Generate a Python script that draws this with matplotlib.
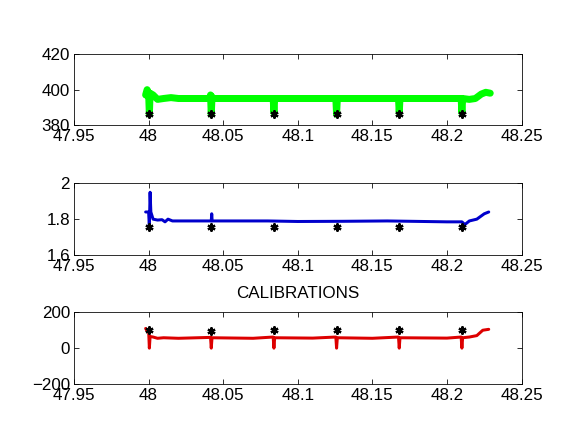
import matplotlib
matplotlib.use('Agg')
import matplotlib.pyplot as plt
import numpy as np

# calibration times and the values at which the asterisks sit
cal_x = [48.0, 48.042, 48.084, 48.126, 48.168, 48.21]
cal_top = [386, 386, 386, 386, 386, 386]
cal_mid = [1.756, 1.756, 1.756, 1.756, 1.756, 1.756]
cal_bot = [100, 93, 100, 100, 100, 100]

# top panel (green)
green_x = [47.998, 47.999, 48.0, 48.0005, 48.001, 48.003, 48.006, 48.01, 48.015,
           48.02, 48.041, 48.0415, 48.042, 48.0425, 48.043, 48.06, 48.0835, 48.084,
           48.0845, 48.1, 48.1255, 48.126, 48.1265, 48.15, 48.1675, 48.168, 48.1685,
           48.19, 48.2095, 48.21, 48.2105, 48.215, 48.219, 48.223, 48.226, 48.229]
green_y = [397, 400, 398, 386, 398, 397, 394.5, 395, 395.5,
           395, 395, 397, 386, 396, 395, 395, 395, 387,
           395, 395, 395, 386, 395, 395, 395, 387, 395,
           395, 395, 387, 395, 394.5, 395, 397.5, 398.5, 398]

# middle panel (blue)
blue_x = [47.998, 48.0, 48.0005, 48.001, 48.0015, 48.003, 48.006, 48.009, 48.011,
          48.013, 48.016, 48.02, 48.042, 48.0423, 48.0426, 48.06, 48.08, 48.1,
          48.13, 48.16, 48.2, 48.21, 48.212, 48.215, 48.22, 48.225, 48.228]
blue_y = [1.84, 1.84, 1.76, 1.95, 1.84, 1.80, 1.795, 1.797, 1.785,
          1.80, 1.79, 1.79, 1.79, 1.83, 1.79, 1.79, 1.79, 1.787,
          1.788, 1.79, 1.785, 1.785, 1.77, 1.79, 1.80, 1.83, 1.84]

# bottom panel (red)
red_x = [47.998, 47.999, 48.0, 48.0005, 48.001, 48.003, 48.006, 48.01, 48.02,
         48.0415, 48.042, 48.0425, 48.07, 48.0835, 48.084, 48.0845, 48.11, 48.1255,
         48.126, 48.1265, 48.15, 48.1675, 48.168, 48.1685, 48.2, 48.2095, 48.21,
         48.2105, 48.215, 48.22, 48.224, 48.228]
red_y = [110, 95, 100, 0, 65, 62, 55, 58, 55,
         60, 0, 58, 55, 62, 0, 58, 56, 62,
         0, 58, 55, 62, 0, 58, 56, 62, 0,
         58, 62, 70, 100, 105]

xticks = [47.95, 48.0, 48.05, 48.1, 48.15, 48.2, 48.25]
xlabels = ['47.95', '48', '48.05', '48.1', '48.15', '48.2', '48.25']

matplotlib.rcParams.update({'font.family': 'Liberation Sans', 'font.size': 17})

fig = plt.figure(figsize=(8, 6), dpi=72)
left, width = 0.1285, 0.777
boxes = [(0.7106, 0.1637), (0.4097, 0.166), (0.1111, 0.166)]

panels = [
    (green_x, green_y, '#00ff00', 7, cal_top, [380, 420], [380, 400, 420], ['380', '400', '420']),
    (blue_x, blue_y, '#0000cc', 3, cal_mid, [1.6, 2.0], [1.6, 1.8, 2.0], ['1.6', '1.8', '2']),
    (red_x, red_y, '#dd0000', 3, cal_bot, [-200, 200], [-200, 0, 200], ['\u2212200', '0', '200']),
]

for i, (xs, ys, col, lw, cy, ylim, yt, ytl) in enumerate(panels):
    ax = fig.add_axes([left, boxes[i][0], width, boxes[i][1]])
    ax.plot(xs, ys, color=col, lw=lw, solid_joinstyle='round', solid_capstyle='round')
    ax.plot(cal_x, cy, ls='none', marker=(6, 2, 0), ms=8, mew=2.2, color='black')
    ax.set_xlim(47.95, 48.25)
    ax.set_ylim(ylim)
    ax.set_xticks(xticks)
    ax.set_xticklabels(xlabels)
    ax.set_yticks(yt)
    ax.set_yticklabels(ytl)
    ax.tick_params(direction='in', length=5, width=0.8, top=True, right=True, pad=4)
    for s in ax.spines.values():
        s.set_linewidth(0.8)
    if i == 2:
        ax.set_title('CALIBRATIONS', fontsize=17, pad=14)

fig.savefig('out.png', dpi=72)
